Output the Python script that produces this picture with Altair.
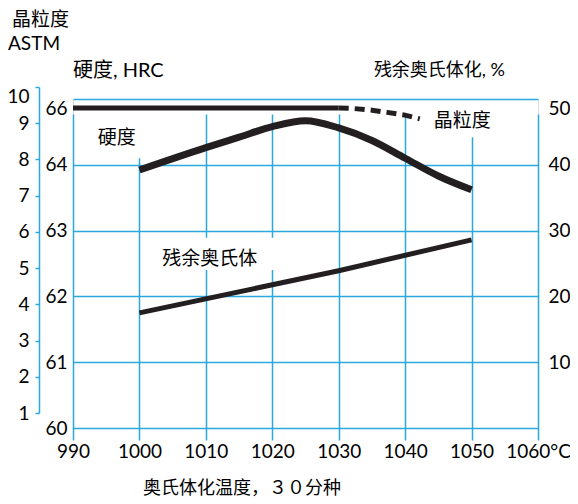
import altair as alt
import pandas as pd

BLUE = "#29a9e0"
INK = "#231f20"
LAT = "Lato"
MIX = "Lato, 'Noto Sans CJK SC'"
CJK = "'Noto Sans CJK SC'"

# ---- data ----
temp_ticks = [990, 1000, 1010, 1020, 1030, 1040, 1050, 1060]
hard_ticks = [60, 61, 62, 63, 64, 65]
grain_ticks = [1, 2, 3, 4, 5, 6, 7, 8, 9, 10]
pct_ticks = [10, 20, 30, 40, 50]

grain_solid_t = [990, 1030]
grain_solid_v = [9.42, 9.42]
grain_dash_t = [1030, 1032, 1035, 1037.3, 1039.8, 1042.2]
grain_dash_v = [9.42, 9.41, 9.36, 9.30, 9.23, 9.12]

hard_t = [1000, 1010, 1015, 1020, 1025, 1030, 1035, 1040, 1045, 1050]
hard_v = [63.92, 64.26, 64.42, 64.58, 64.67, 64.56, 64.37, 64.10, 63.83, 63.62]

aust_t = [1000, 1030, 1050]
aust_v = [17.5, 23.9, 28.6]

# in-plot labels (temperature, HRC-scale position)
lab_text = ["硬度", "残余奥氏体", "晶粒度"]
lab_t = [996.6, 1010.6, 1048.6]
lab_v = [64.41, 62.57, 64.67]
box_t1 = [993.0, 1001.6, 1043.3]
box_t2 = [1000.6, 1020.6, 1054.3]
box_v1 = [64.79, 62.89, 64.86]
box_v2 = [64.10, 62.40, 64.42]

# ---- tables ----
gs = pd.DataFrame({"t": grain_solid_t, "v": grain_solid_v})
gd = pd.DataFrame({"t": grain_dash_t, "v": grain_dash_v})
hd = pd.DataFrame({"t": hard_t, "v": hard_v})
au = pd.DataFrame({"t": aust_t, "v": aust_v})
labs = pd.DataFrame({"label": lab_text, "t": lab_t, "v": lab_v})
boxes = pd.DataFrame({"t1": box_t1, "t2": box_t2, "v1": box_v1, "v2": box_v2})

x_scale = alt.Scale(domain=[990, 1060], nice=False, zero=False)
x_axis = alt.Axis(
    values=temp_ticks, title=None, format="d", grid=True, gridColor=BLUE,
    gridWidth=1.5, domain=False, ticks=False, labelPadding=14,
    labelFont=LAT, labelFontSize=19, labelColor="black", labelFlush=False,
    labelOverlap=False,
    labelExpr="datum.value == 1060 ? '1060°C' : datum.label",
)
xenc = alt.X("t:Q", scale=x_scale, axis=x_axis)

grain_y = alt.Y(
    "v:Q",
    scale=alt.Scale(domain=[1, 10], range=[314, -12], nice=False, zero=False),
    axis=alt.Axis(
        orient="left", offset=34, values=grain_ticks, title=None, grid=False,
        domain=True, domainColor=BLUE, domainWidth=1.5, ticks=True,
        tickColor=BLUE, tickSize=4, tickWidth=1.5, labelPadding=6,
        labelFont=LAT, labelFontSize=19, labelColor="black", labelFlush=False,
        labelOverlap=False,
        labelBaseline={"condition": {"test": "datum.value == 10", "value": "top"}, "value": "middle"},
    ),
)

hard_scale = alt.Scale(domain=[60, 65], nice=False, zero=False)
hard_axis = alt.Axis(
    orient="left", values=hard_ticks, title=None, grid=True, gridColor=BLUE,
    gridWidth=1.5, domain=False, ticks=False, labelPadding=6,
    labelFont=LAT, labelFontSize=19, labelColor="black", labelFlush=False,
    labelOverlap=False,
    labelExpr="datum.value == 65 ? '66' : datum.label",
    labelBaseline={"condition": {"test": "datum.value == 65", "value": "top"}, "value": "middle"},
)
hard_y = alt.Y("v:Q", scale=hard_scale, axis=hard_axis)

pct_y = alt.Y(
    "v:Q", scale=alt.Scale(domain=[0, 50], nice=False, zero=False),
    axis=alt.Axis(
        orient="right", values=pct_ticks, title=None, grid=False, domain=False,
        ticks=False, labelPadding=10, labelFont=LAT, labelFontSize=19,
        labelColor="black", labelFlush=False, labelOverlap=False,
        labelBaseline={"condition": {"test": "datum.value == 50", "value": "top"}, "value": "middle"},
    ),
)

grain_layer = alt.layer(
    alt.Chart(gs).mark_line(color=INK, strokeWidth=5, strokeCap="butt").encode(x=xenc, y=grain_y),
    alt.Chart(gd).mark_line(color=INK, strokeWidth=5, strokeCap="butt", strokeDash=[10, 6]).encode(x=xenc, y=grain_y),
)


def title_text(txt, x, y, align, size=19, font=MIX):
    return alt.Chart(pd.DataFrame({"s": [txt]})).mark_text(
        align=align, baseline="middle", font=font, fontSize=size, color="black"
    ).encode(text="s:N", x=alt.value(x), y=alt.value(y))


hard_layer = alt.layer(
    alt.Chart(boxes).mark_rect(fill="white", strokeWidth=0).encode(
        x=alt.X("t1:Q", scale=x_scale, axis=x_axis),
        x2="t2:Q",
        y=alt.Y("v1:Q", scale=hard_scale, axis=hard_axis),
        y2="v2:Q",
    ),
    alt.Chart(hd).mark_line(color=INK, strokeWidth=7, strokeCap="butt", interpolate="monotone").encode(x=xenc, y=hard_y),
    alt.Chart(labs).mark_text(font=CJK, fontSize=19, color="black", baseline="middle").encode(
        x=xenc, y=hard_y, text="label:N"
    ),
    title_text("晶粒度", -61, -79, "left"),
    title_text("ASTM", -65, -55, "left", size=19, font=LAT),
    title_text("硬度, HRC", 0, -28, "left", size=20),
    title_text("残余奥氏体化, %", 432, -28, "right", size=18),
    title_text("奥氏体化温度，３０分种", 169, 390, "center", size=18),
)

aust_layer = alt.Chart(au).mark_line(color=INK, strokeWidth=5, strokeCap="butt").encode(x=xenc, y=pct_y)

chart = alt.layer(grain_layer, hard_layer, aust_layer).resolve_scale(y="independent").properties(
    width=465, height=329,
    autosize=alt.AutoSizeParams(type="none"),
    padding={"left": 65, "top": 91, "right": 32, "bottom": 76},
).configure_view(stroke=BLUE, strokeWidth=2).configure(background="white")

chart.save("out.html", embed_options={"renderer": "svg", "actions": False})
